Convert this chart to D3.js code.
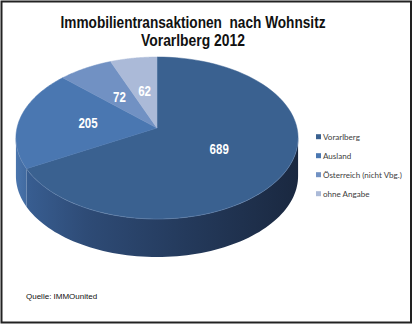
<!DOCTYPE html>
<html><head><meta charset="utf-8">
<script src="https://cdn.jsdelivr.net/npm/d3@7"></script>
<style>body{margin:0;background:#fff}svg{display:block}</style>
</head><body>
<script>
const categories = ["Vorarlberg", "Ausland", "Österreich (nicht Vbg.)", "ohne Angabe"];
const values = [689, 205, 72, 62];
const titleLines = ["Immobilientransaktionen  nach Wohnsitz", "Vorarlberg 2012"];
const sourceText = "Quelle: IMMOunited";

const W = 413, H = 327;
const svg = d3.select("body").append("svg").attr("width", W).attr("height", H);

const topColors = ["#3a6190", "#4a77b1", "#7191c3", "#abbad8"];
const color = d3.scaleOrdinal().domain(categories).range(topColors);

// perspective projection of the pie's top disc
const cx = 157, vy = 128, yFar = 57, yNear = 219, rx = 140, depth = 38;
const KK = (2 * vy - yFar - yNear) / (yFar - yNear);
const A = yFar * (KK + 1) - vy;
function proj(theta, f, dy) {
  const s = Math.sin(theta) * f, t = Math.cos(theta) * f;
  const den = 1 + KK * t;
  return [cx + rx * s / den, (A * t + vy) / den + (dy || 0)];
}

const pie = d3.pie().sort(null).value(d => d);
const arcs = pie(values);

const defs = svg.append("defs");
const g1 = defs.append("linearGradient").attr("id", "sideV").attr("gradientUnits", "userSpaceOnUse")
  .attr("x1", 16).attr("x2", 298).attr("y1", 0).attr("y2", 0);
[[0, "#3a6196"], [0.25, "#2e4b76"], [0.6, "#243a5c"], [1, "#1a2840"]].forEach(s => g1.append("stop").attr("offset", s[0]).attr("stop-color", s[1]));
const g2 = defs.append("linearGradient").attr("id", "sideA").attr("gradientUnits", "userSpaceOnUse")
  .attr("x1", 16).attr("x2", 30).attr("y1", 0).attr("y2", 0);
[[0, "#4a75ad"], [1, "#3f679c"]].forEach(s => g2.append("stop").attr("offset", s[0]).attr("stop-color", s[1]));
const sideFill = ["url(#sideV)", "url(#sideA)", "#6584b5", "#9aa9c8"];

const silStart = Math.acos(-KK);
const silEnd = 2 * Math.PI - Math.acos(-KK);
const N = 80;
arcs.forEach((a, i) => {
  const s0 = Math.max(a.startAngle, silStart), s1 = Math.min(a.endAngle, silEnd);
  if (s1 <= s0) return;
  const pts = [];
  for (let j = 0; j <= N; j++) pts.push(proj(s0 + (s1 - s0) * j / N, 1, 0));
  for (let j = N; j >= 0; j--) pts.push(proj(s0 + (s1 - s0) * j / N, 1, depth));
  svg.append("path").attr("d", d3.line()(pts) + "Z").attr("fill", sideFill[i]);
});

arcs.forEach((a, i) => {
  const pts = [[cx, vy]];
  for (let j = 0; j <= N; j++) pts.push(proj(a.startAngle + (a.endAngle - a.startAngle) * j / N, 1, 0));
  svg.append("path").attr("d", d3.line()(pts) + "Z").attr("fill", color(categories[i]))
    .attr("stroke", color(categories[i])).attr("stroke-width", 0.5);
});

{
  const pts = [];
  for (let j = 0; j <= N; j++) pts.push(proj(silStart + (silEnd - silStart) * j / N, 1, 0));
  svg.append("path").attr("d", d3.line()(pts)).attr("fill", "none")
    .attr("stroke", "rgba(120,150,190,0.35)").attr("stroke-width", 1);
}

// data labels (narrow bold)
arcs.forEach((a, i) => {
  const p = proj((a.startAngle + a.endAngle) / 2, 0.5, 0);
  const t = svg.append("text").attr("x", p[0]).attr("y", p[1]).attr("text-anchor", "middle")
    .attr("dominant-baseline", "central")
    .attr("font-family", "'Liberation Sans', Arial, sans-serif")
    .attr("font-weight", "bold").attr("font-size", 14).attr("fill", "#fff")
    .text(values[i]);
  t.attr("textLength", String(values[i]).length * 6.4).attr("lengthAdjust", "spacingAndGlyphs");
});

// title
const titleW = [265, 104];
svg.append("g").selectAll("text").data(titleLines).join("text")
  .attr("x", 193).attr("y", (d, i) => 28 + i * 18)
  .attr("text-anchor", "middle")
  .attr("font-family", "'Liberation Sans', Arial, sans-serif")
  .attr("font-weight", "bold").attr("font-size", 16).attr("fill", "#111")
  .style("white-space", "pre")
  .attr("textLength", (d, i) => titleW[i]).attr("lengthAdjust", "spacingAndGlyphs")
  .text(d => d);

// legend
const lg = svg.append("g").selectAll("g").data(categories).join("g")
  .attr("transform", (d, i) => `translate(316,${136.7 + i * 19})`);
lg.append("rect").attr("x", 0).attr("y", -2.5).attr("width", 5).attr("height", 5).attr("fill", d => color(d));
const lt = lg.append("text").attr("x", 7).attr("y", 0).attr("dominant-baseline", "central")
  .attr("font-family", "Lato, 'Open Sans', sans-serif").attr("font-size", 9.5).attr("fill", "#404040")
  .text(d => d);
{
  const w = lt.nodes()[2].getComputedTextLength();
  const fs = 9.5 * 79 / w;
  lt.attr("font-size", fs);
}

// source
svg.append("text").attr("x", 26).attr("y", 299).attr("font-family", "'Liberation Sans', Arial, sans-serif")
  .attr("font-size", 8).attr("fill", "#111").text(sourceText);

// frame
svg.append("rect").attr("x", 1.5).attr("y", 1.5).attr("width", 409.5).attr("height", 321)
  .attr("fill", "none").attr("stroke", "#222").attr("stroke-width", 2);
</script>
</body></html>
